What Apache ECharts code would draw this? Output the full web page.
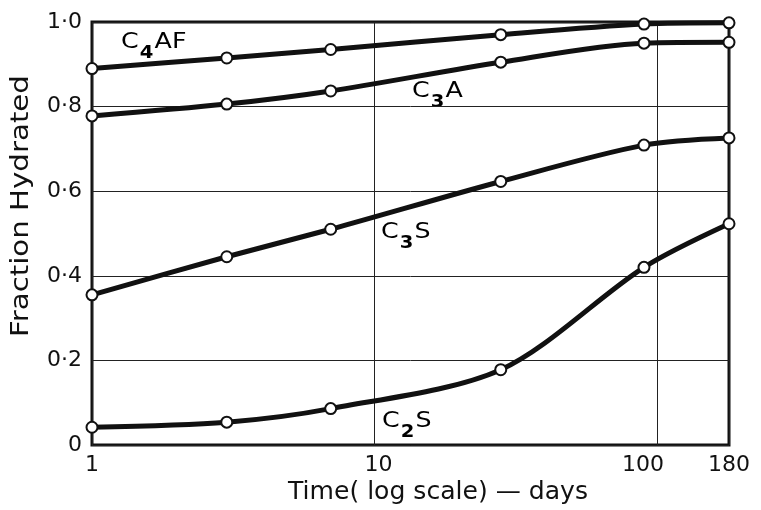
<!DOCTYPE html>
<html>
<head>
<meta charset="utf-8">
<title>Fraction Hydrated</title>
<script src="https://cdn.jsdelivr.net/npm/echarts@6/dist/echarts.min.js"></script>
<style>
  html, body, #main { width: 100%; height: 100%; margin: 0; padding: 0; background: #fff; }
</style>
</head>
<body>
<div id="main"></div>
<script type="text/javascript">
// ages in days and hydrated fraction per clinker phase
var days = [1, 3, 7, 28, 90, 180];
var c4af = [0.89, 0.915, 0.935, 0.97, 0.995, 0.998];
var c3a = [0.778, 0.806, 0.837, 0.905, 0.95, 0.952];
var c3s = [0.355, 0.445, 0.51, 0.623, 0.709, 0.726];
var c2s = [0.042, 0.054, 0.086, 0.178, 0.42, 0.523];
var yTicks = [0, 0.2, 0.4, 0.6, 0.8, 1.0];

var FONT = 'DejaVu Sans';
var INK = '#111';

function pairs(ys) {
    return days.map(function (d, i) { return [d, ys[i]]; });
}

function makeSeries(name, ys) {
    return {
        name: name,
        type: 'line',
        data: pairs(ys),
        smooth: 0.3,
        symbol: 'circle',
        symbolSize: 11,
        itemStyle: { color: '#fff', borderColor: INK, borderWidth: 2 },
        lineStyle: { color: INK, width: 5 },
        z: 3
    };
}

function phaseLabel(x, y, head, sub, tail) {
    return {
        type: 'text',
        x: x, y: y,
        scaleX: 1.15,
        style: {
            text: '{a|' + head + '}{s|' + sub + '}{a|' + tail + '}',
            rich: {
                a: { fontFamily: FONT, fontSize: 22, color: INK, lineHeight: 24 },
                s: { fontFamily: FONT, fontSize: 17, fontWeight: 'bold', color: INK, padding: [22, 1, 0, 1] }
            }
        }
    };
}

var myChart = echarts.init(document.getElementById('main'));

myChart.setOption({
    animation: false,
    grid: {
        left: 92, right: 32, top: 22, bottom: 65,
        show: true, borderColor: INK, borderWidth: 3
    },
    xAxis: {
        type: 'log',
        logBase: 10,
        min: 1,
        max: 180,
        axisLine: { show: false },
        axisTick: { show: false },
        axisLabel: {
            margin: 9,
            fontFamily: FONT, fontSize: 22, color: INK,
            formatter: function (v) {
                var n = Math.round(v);
                if (n === 100) return '{l|100}';
                if (n === 10) return '{t|10}';
                return String(n);
            },
            rich: {
                l: { fontFamily: FONT, fontSize: 22, color: INK, padding: [0, 28, 0, 0] },
                t: { fontFamily: FONT, fontSize: 22, color: INK, padding: [0, 0, 0, 8] }
            }
        },
        splitLine: { show: true, lineStyle: { color: '#222', width: 1 } },
        minorSplitLine: { show: false }
    },
    yAxis: {
        type: 'value',
        min: 0,
        max: 1,
        interval: 0.2,
        axisLine: { show: false },
        axisTick: { show: false },
        axisLabel: {
            margin: 10,
            fontFamily: FONT, fontSize: 22, color: INK,
            formatter: function (v) {
                var t = yTicks.filter(function (k) { return Math.abs(k - v) < 1e-6; })[0];
                if (t === 0) return '0';
                return v.toFixed(1).replace('.', '·');
            }
        },
        splitLine: { show: true, lineStyle: { color: '#222', width: 1 } }
    },
    series: [
        makeSeries('C4AF', c4af),
        makeSeries('C3A', c3a),
        makeSeries('C3S', c3s),
        makeSeries('C2S', c2s)
    ],
    graphic: [
        phaseLabel(121, 23, 'C', '4', 'AF'),
        phaseLabel(412, 72, 'C', '3', 'A'),
        phaseLabel(381, 213, 'C', '3', 'S'),
        phaseLabel(382, 402, 'C', '2', 'S'),
        {
            type: 'text', x: 288, y: 481, scaleX: 1.045,
            style: { text: 'Time( log scale) — days', fontFamily: FONT, fontSize: 24, fill: INK }
        },
        {
            type: 'text', x: 9, y: 337, rotation: Math.PI / 2, scaleX: 1.17,
            style: { text: 'Fraction Hydrated', fontFamily: FONT, fontSize: 25, fill: INK }
        }
    ]
});
</script>
</body>
</html>
